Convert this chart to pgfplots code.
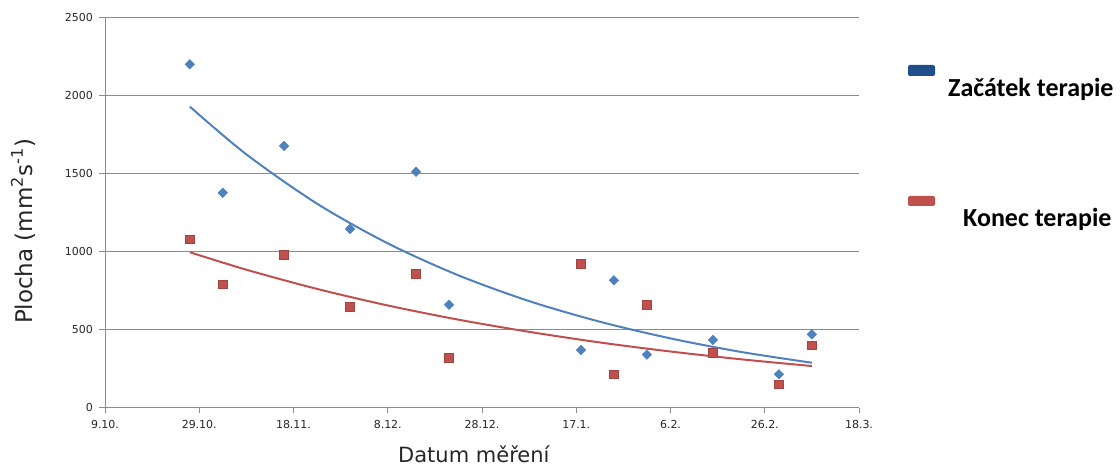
\documentclass[border=0pt]{standalone}
\usepackage{fontspec}
\setmainfont{DejaVu Sans}
\newfontfamily\legfont{Carlito}
\usepackage{pgfplots}
\pgfplotsset{compat=1.18}
\definecolor{bluem}{HTML}{4F81BD}
\definecolor{redm}{HTML}{C0504D}
\definecolor{legblue}{HTML}{1F4E8C}
\definecolor{legred}{HTML}{C0504D}
\definecolor{gridc}{HTML}{8C8C8C}
\begin{document}
\begin{tikzpicture}[x=1pt,y=1pt]
\path[use as bounding box] (0,0) rectangle (1120,468);
\begin{axis}[
  at={(105pt,60.3pt)}, anchor=south west,
  width=754pt, height=390.2pt, scale only axis,
  xmin=0, xmax=160, ymin=0, ymax=2500,
  xtick={0,20,...,160},
  xticklabels={9.10.,29.10.,18.11.,8.12.,28.12.,17.1.,6.2.,26.2.,18.3.},
  ytick={0,500,...,2500},
  axis lines=left,
  axis line style={gridc, -, line width=0.8pt},
  ymajorgrids, grid style={gridc, line width=0.8pt},
  tick align=outside, major tick length=5.5pt,
  tick style={gridc, line width=0.8pt},
  ticklabel style={font=\fontsize{11}{13}\selectfont, text=black!85},
  xticklabel style={yshift=-4pt},
  yticklabel style={xshift=-3pt},
  /pgf/number format/assume math mode=true,
  /pgf/number format/set thousands separator={},
]
% Zacatek terapie
\addplot[only marks, mark=square*, mark size=3.4pt, color=bluem,
  mark options={rotate=45, fill=bluem, draw=bluem}] coordinates {
  (18,2200) (25,1377) (38,1677) (52,1145) (66,1512) (73,660)
  (101,370) (108,816) (115,340) (129,434) (143,214) (150,470)};
% Konec terapie
\addplot[only marks, mark=square*, mark size=4.4pt, color=redm,
  mark options={fill=redm, draw=redm!85!black}] coordinates {
  (18,1079) (25,791) (38,980) (52,647) (66,859) (73,320)
  (101,923) (108,214) (115,660) (129,352) (143,150) (150,400)};
% trendlines (exponential)
\addplot[bluem, line width=2pt, smooth, no marks] coordinates {
  (18,1929) (30,1623) (45,1307) (60,1053) (75,848) (90,683)
  (105,551) (120,444) (135,357) (150,288)};
\addplot[redm, line width=2pt, smooth, no marks] coordinates {
  (18,996) (30,884) (45,761) (60,655) (75,564) (90,486)
  (105,418) (120,360) (135,310) (150,267)};
\end{axis}
\node[anchor=base west, font=\fontsize{21}{24}\selectfont, text=black!85, inner sep=0pt] at (398,5) {Datum měření};
\node[anchor=base, rotate=90, font=\fontsize{23}{27}\selectfont, text=black!85, inner sep=0pt] at (32,236.5) {Plocha (mm\textsuperscript{2}s\textsuperscript{-1})};
\fill[legblue, rounded corners=2pt] (908,392) rectangle (935,403);
\fill[legred, rounded corners=2pt] (908,262) rectangle (935,272);
\node[anchor=base west, inner sep=0pt, font=\legfont\bfseries\fontsize{26}{30}\selectfont] at (948,371.3) {Začátek terapie};
\node[anchor=base west, inner sep=0pt, font=\legfont\bfseries\fontsize{26}{30}\selectfont] at (963,241.3) {Konec terapie};
\end{tikzpicture}
\end{document}
